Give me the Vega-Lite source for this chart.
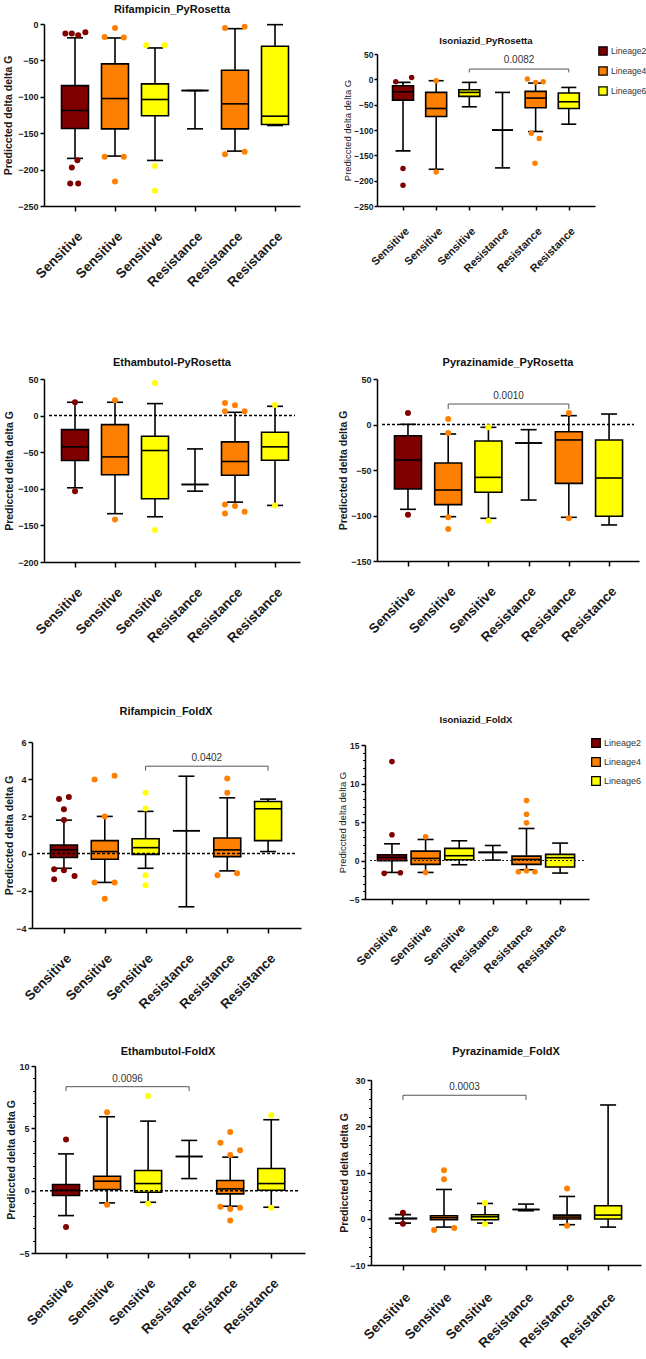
{
  "$schema": "https://vega.github.io/schema/vega-lite/v6.json",
  "background": "white",
  "padding": {"left": 3, "top": 3, "right": 0, "bottom": 0},
  "columns": 2,
  "spacing": {"row": 20, "column": 72},
  "bounds": "flush",
  "resolve": {"scale": {"color": "independent"}},
  "config": {
    "font": "Liberation Sans",
    "view": {"stroke": null},
    "axis": {"domainColor": "#000", "domainWidth": 1.5, "tickColor": "#000", "tickWidth": 1.5, "labelColor": "#1a1a1a", "titleColor": "#1a1a1a", "grid": false, "labelFont": "Liberation Sans", "titleFont": "Liberation Sans", "labelFlush": false, "labelOverlap": false, "labelBound": false},
    "title": {"font": "Liberation Sans", "fontWeight": "bold", "color": "#111", "anchor": "middle", "frame": "group"}
  },
  "datasets": {
    "box": [
      {"panel": "RP", "g": 1, "lineage": "Lineage2", "lo": -184.6, "q1": -143.5, "med": -118.8, "q3": -84.6, "hi": -19},
      {"panel": "RP", "g": 2, "lineage": "Lineage4", "lo": -181.4, "q1": -144, "med": -102.4, "q3": -54.8, "hi": -19.2},
      {"panel": "RP", "g": 3, "lineage": "Lineage6", "lo": -187.4, "q1": -126.1, "med": -103.7, "q3": -82.3, "hi": -32.9},
      {"panel": "RP", "g": 4, "lineage": "Lineage2", "lo": -144, "q1": -91.4, "med": -91.4, "q3": -91.4, "hi": -91.4},
      {"panel": "RP", "g": 5, "lineage": "Lineage4", "lo": -174.6, "q1": -144, "med": -109.7, "q3": -63.5, "hi": -6.4},
      {"panel": "RP", "g": 6, "lineage": "Lineage6", "lo": -139.4, "q1": -138, "med": -126.6, "q3": -30.6, "hi": -0.9},
      {"panel": "IP", "g": 1, "lineage": "Lineage2", "lo": -141.2, "q1": -41, "med": -24.5, "q3": -12.6, "hi": -6},
      {"panel": "IP", "g": 2, "lineage": "Lineage4", "lo": -177.5, "q1": -73.3, "med": -57.5, "q3": -25.8, "hi": -2.7},
      {"panel": "IP", "g": 3, "lineage": "Lineage6", "lo": -54.2, "q1": -33.7, "med": -25.8, "q3": -20.5, "hi": -6},
      {"panel": "IP", "g": 4, "lineage": "Lineage2", "lo": -174.8, "q1": -100.3, "med": -100.3, "q3": -100.3, "hi": -25.8},
      {"panel": "IP", "g": 5, "lineage": "Lineage4", "lo": -103, "q1": -56.2, "med": -37, "q3": -23.8, "hi": -7.4},
      {"panel": "IP", "g": 6, "lineage": "Lineage6", "lo": -88.5, "q1": -57.5, "med": -44.3, "q3": -27.1, "hi": -16},
      {"panel": "EP", "g": 1, "lineage": "Lineage2", "lo": -98.6, "q1": -61.4, "med": -42.7, "q3": -19.1, "hi": 18.2},
      {"panel": "EP", "g": 2, "lineage": "Lineage4", "lo": -134, "q1": -80.9, "med": -56.4, "q3": -12.3, "hi": 18.2},
      {"panel": "EP", "g": 3, "lineage": "Lineage6", "lo": -138.2, "q1": -113.6, "med": -47.7, "q3": -28.2, "hi": 16.4},
      {"panel": "EP", "g": 4, "lineage": "Lineage2", "lo": -103.2, "q1": -94.1, "med": -94.1, "q3": -94.1, "hi": -45.5},
      {"panel": "EP", "g": 5, "lineage": "Lineage4", "lo": -118.2, "q1": -81.4, "med": -62.7, "q3": -35.9, "hi": 4.5},
      {"panel": "EP", "g": 6, "lineage": "Lineage6", "lo": -122.7, "q1": -60.9, "med": -42.7, "q3": -22.7, "hi": 12.7},
      {"panel": "ZP", "g": 1, "lineage": "Lineage2", "lo": -93.2, "q1": -70.9, "med": -39, "q3": -12.3, "hi": 0.2},
      {"panel": "ZP", "g": 2, "lineage": "Lineage4", "lo": -101.3, "q1": -88.1, "med": -72, "q3": -42.3, "hi": -10.4},
      {"panel": "ZP", "g": 3, "lineage": "Lineage6", "lo": -103.1, "q1": -74.5, "med": -58.1, "q3": -18.1, "hi": -3.1},
      {"panel": "ZP", "g": 4, "lineage": "Lineage2", "lo": -83, "q1": -20.3, "med": -20.3, "q3": -20.3, "hi": -5.7},
      {"panel": "ZP", "g": 5, "lineage": "Lineage4", "lo": -102, "q1": -64.7, "med": -17, "q3": -7.9, "hi": 9.7},
      {"panel": "ZP", "g": 6, "lineage": "Lineage6", "lo": -110.4, "q1": -100.9, "med": -58.8, "q3": -17, "hi": 11.5},
      {"panel": "RF", "g": 1, "lineage": "Lineage2", "lo": -0.79, "q1": -0.21, "med": 0.2, "q3": 0.46, "hi": 1.8},
      {"panel": "RF", "g": 2, "lineage": "Lineage4", "lo": -1.55, "q1": -0.3, "med": 0.11, "q3": 0.7, "hi": 2.0},
      {"panel": "RF", "g": 3, "lineage": "Lineage6", "lo": -0.79, "q1": -0.04, "med": 0.32, "q3": 0.8, "hi": 2.27},
      {"panel": "RF", "g": 4, "lineage": "Lineage2", "lo": -2.86, "q1": 1.23, "med": 1.23, "q3": 1.23, "hi": 4.16},
      {"panel": "RF", "g": 5, "lineage": "Lineage4", "lo": -0.93, "q1": -0.16, "med": 0.2, "q3": 0.84, "hi": 3.0},
      {"panel": "RF", "g": 6, "lineage": "Lineage6", "lo": 0.11, "q1": 0.7, "med": 2.41, "q3": 2.8, "hi": 2.93},
      {"panel": "IF", "g": 1, "lineage": "Lineage2", "lo": -1.55, "q1": -0.03, "med": 0.4, "q3": 0.75, "hi": 2.17},
      {"panel": "IF", "g": 2, "lineage": "Lineage4", "lo": -1.55, "q1": -0.5, "med": 0.27, "q3": 1.22, "hi": 2.73},
      {"panel": "IF", "g": 3, "lineage": "Lineage6", "lo": -0.55, "q1": 0.1, "med": 0.62, "q3": 1.57, "hi": 2.56},
      {"panel": "IF", "g": 4, "lineage": "Lineage2", "lo": 0.05, "q1": 1.05, "med": 1.05, "q3": 1.05, "hi": 1.95},
      {"panel": "IF", "g": 5, "lineage": "Lineage4", "lo": -1.2, "q1": -0.5, "med": 0.14, "q3": 0.57, "hi": 4.16},
      {"panel": "IF", "g": 6, "lineage": "Lineage6", "lo": -1.63, "q1": -0.85, "med": 0.36, "q3": 0.79, "hi": 2.26},
      {"panel": "EF", "g": 1, "lineage": "Lineage2", "lo": -2.0, "q1": -0.39, "med": 0.03, "q3": 0.49, "hi": 2.95},
      {"panel": "EF", "g": 2, "lineage": "Lineage4", "lo": -0.98, "q1": 0.09, "med": 0.76, "q3": 1.16, "hi": 5.93},
      {"panel": "EF", "g": 3, "lineage": "Lineage6", "lo": -0.93, "q1": -0.13, "med": 0.57, "q3": 1.62, "hi": 5.58},
      {"panel": "EF", "g": 4, "lineage": "Lineage2", "lo": 0.97, "q1": 2.74, "med": 2.74, "q3": 2.74, "hi": 4.03},
      {"panel": "EF", "g": 5, "lineage": "Lineage4", "lo": -1.25, "q1": -0.26, "med": 0.14, "q3": 0.81, "hi": 2.69},
      {"panel": "EF", "g": 6, "lineage": "Lineage6", "lo": -1.33, "q1": 0.03, "med": 0.57, "q3": 1.78, "hi": 5.69},
      {"panel": "ZF", "g": 1, "lineage": "Lineage2", "lo": -0.95, "q1": 0.0, "med": 0.05, "q3": 0.1, "hi": 0.9},
      {"panel": "ZF", "g": 2, "lineage": "Lineage4", "lo": -1.8, "q1": -0.22, "med": 0.22, "q3": 0.65, "hi": 6.33},
      {"panel": "ZF", "g": 3, "lineage": "Lineage6", "lo": -0.94, "q1": -0.22, "med": 0.43, "q3": 0.86, "hi": 3.31},
      {"panel": "ZF", "g": 4, "lineage": "Lineage2", "lo": 1.73, "q1": 2.0, "med": 2.0, "q3": 2.0, "hi": 3.17},
      {"panel": "ZF", "g": 5, "lineage": "Lineage4", "lo": -1.29, "q1": -0.07, "med": 0.36, "q3": 0.79, "hi": 4.82},
      {"panel": "ZF", "g": 6, "lineage": "Lineage6", "lo": -1.8, "q1": -0.07, "med": 0.79, "q3": 2.81, "hi": 24.6}
    ],
    "out": [
      {"panel": "RP", "lineage": "Lineage2", "pos": 0.76, "v": -13},
      {"panel": "RP", "lineage": "Lineage2", "pos": 0.92, "v": -13},
      {"panel": "RP", "lineage": "Lineage2", "pos": 1.08, "v": -15.5},
      {"panel": "RP", "lineage": "Lineage2", "pos": 1.26, "v": -11.4},
      {"panel": "RP", "lineage": "Lineage2", "pos": 1.06, "v": -187},
      {"panel": "RP", "lineage": "Lineage2", "pos": 0.92, "v": -197},
      {"panel": "RP", "lineage": "Lineage2", "pos": 0.88, "v": -219},
      {"panel": "RP", "lineage": "Lineage2", "pos": 1.08, "v": -219},
      {"panel": "RP", "lineage": "Lineage4", "pos": 2.0, "v": -5.5},
      {"panel": "RP", "lineage": "Lineage4", "pos": 1.74, "v": -17.8},
      {"panel": "RP", "lineage": "Lineage4", "pos": 2.22, "v": -18.7},
      {"panel": "RP", "lineage": "Lineage4", "pos": 1.74, "v": -182.4},
      {"panel": "RP", "lineage": "Lineage4", "pos": 2.22, "v": -182.4},
      {"panel": "RP", "lineage": "Lineage4", "pos": 2.0, "v": -216.2},
      {"panel": "RP", "lineage": "Lineage6", "pos": 2.78, "v": -29.3},
      {"panel": "RP", "lineage": "Lineage6", "pos": 3.24, "v": -29.3},
      {"panel": "RP", "lineage": "Lineage6", "pos": 3.0, "v": -195},
      {"panel": "RP", "lineage": "Lineage6", "pos": 3.0, "v": -229},
      {"panel": "RP", "lineage": "Lineage4", "pos": 4.75, "v": -5.5},
      {"panel": "RP", "lineage": "Lineage4", "pos": 5.24, "v": -3.7},
      {"panel": "RP", "lineage": "Lineage4", "pos": 4.75, "v": -179},
      {"panel": "RP", "lineage": "Lineage4", "pos": 5.24, "v": -175.5},
      {"panel": "IP", "lineage": "Lineage2", "pos": 0.78, "v": -4.7},
      {"panel": "IP", "lineage": "Lineage2", "pos": 1.26, "v": 3.8},
      {"panel": "IP", "lineage": "Lineage2", "pos": 1.0, "v": -176},
      {"panel": "IP", "lineage": "Lineage2", "pos": 1.0, "v": -209},
      {"panel": "IP", "lineage": "Lineage4", "pos": 2.0, "v": -2.7},
      {"panel": "IP", "lineage": "Lineage4", "pos": 2.0, "v": -182.7},
      {"panel": "IP", "lineage": "Lineage4", "pos": 4.75, "v": 0.5},
      {"panel": "IP", "lineage": "Lineage4", "pos": 5.0, "v": -6},
      {"panel": "IP", "lineage": "Lineage4", "pos": 5.23, "v": -4.7},
      {"panel": "IP", "lineage": "Lineage4", "pos": 4.87, "v": -106.3},
      {"panel": "IP", "lineage": "Lineage4", "pos": 5.11, "v": -116.8},
      {"panel": "IP", "lineage": "Lineage4", "pos": 4.98, "v": -165.6},
      {"panel": "EP", "lineage": "Lineage2", "pos": 1, "v": 18.2},
      {"panel": "EP", "lineage": "Lineage2", "pos": 1, "v": -103.2},
      {"panel": "EP", "lineage": "Lineage4", "pos": 2, "v": 20.9},
      {"panel": "EP", "lineage": "Lineage4", "pos": 2, "v": -141.8},
      {"panel": "EP", "lineage": "Lineage6", "pos": 3, "v": 44.5},
      {"panel": "EP", "lineage": "Lineage6", "pos": 3, "v": -156.4},
      {"panel": "EP", "lineage": "Lineage4", "pos": 4.75, "v": 17.3},
      {"panel": "EP", "lineage": "Lineage4", "pos": 5.0, "v": 14.1},
      {"panel": "EP", "lineage": "Lineage4", "pos": 4.75, "v": 5.9},
      {"panel": "EP", "lineage": "Lineage4", "pos": 5.24, "v": 5.9},
      {"panel": "EP", "lineage": "Lineage4", "pos": 4.75, "v": -121.4},
      {"panel": "EP", "lineage": "Lineage4", "pos": 5.0, "v": -123.6},
      {"panel": "EP", "lineage": "Lineage4", "pos": 4.75, "v": -133.6},
      {"panel": "EP", "lineage": "Lineage4", "pos": 5.24, "v": -131.4},
      {"panel": "EP", "lineage": "Lineage6", "pos": 6, "v": 14.5},
      {"panel": "EP", "lineage": "Lineage6", "pos": 6, "v": -122.7},
      {"panel": "ZP", "lineage": "Lineage2", "pos": 1, "v": 12.6},
      {"panel": "ZP", "lineage": "Lineage2", "pos": 1, "v": -99.1},
      {"panel": "ZP", "lineage": "Lineage4", "pos": 2, "v": 6},
      {"panel": "ZP", "lineage": "Lineage4", "pos": 2, "v": -9.3},
      {"panel": "ZP", "lineage": "Lineage4", "pos": 2, "v": -102},
      {"panel": "ZP", "lineage": "Lineage4", "pos": 2, "v": -114.8},
      {"panel": "ZP", "lineage": "Lineage6", "pos": 3, "v": -3.1},
      {"panel": "ZP", "lineage": "Lineage6", "pos": 3, "v": -105.7},
      {"panel": "ZP", "lineage": "Lineage4", "pos": 5, "v": 12.6},
      {"panel": "ZP", "lineage": "Lineage4", "pos": 5, "v": -103.1},
      {"panel": "RF", "lineage": "Lineage2", "pos": 0.88, "v": 2.93},
      {"panel": "RF", "lineage": "Lineage2", "pos": 1.12, "v": 3.04},
      {"panel": "RF", "lineage": "Lineage2", "pos": 1.0, "v": 2.38},
      {"panel": "RF", "lineage": "Lineage2", "pos": 1.0, "v": 1.8},
      {"panel": "RF", "lineage": "Lineage2", "pos": 0.76, "v": -0.84},
      {"panel": "RF", "lineage": "Lineage2", "pos": 1.0, "v": -0.89},
      {"panel": "RF", "lineage": "Lineage2", "pos": 1.26, "v": -1.2},
      {"panel": "RF", "lineage": "Lineage2", "pos": 0.76, "v": -1.38},
      {"panel": "RF", "lineage": "Lineage4", "pos": 1.75, "v": 3.98},
      {"panel": "RF", "lineage": "Lineage4", "pos": 2.24, "v": 4.18},
      {"panel": "RF", "lineage": "Lineage4", "pos": 2.0, "v": 2.0},
      {"panel": "RF", "lineage": "Lineage4", "pos": 1.75, "v": -1.55},
      {"panel": "RF", "lineage": "Lineage4", "pos": 2.24, "v": -1.55},
      {"panel": "RF", "lineage": "Lineage4", "pos": 2.0, "v": -2.43},
      {"panel": "RF", "lineage": "Lineage6", "pos": 3, "v": 3.27},
      {"panel": "RF", "lineage": "Lineage6", "pos": 3, "v": 2.43},
      {"panel": "RF", "lineage": "Lineage6", "pos": 3, "v": -1.16},
      {"panel": "RF", "lineage": "Lineage6", "pos": 3, "v": -1.7},
      {"panel": "RF", "lineage": "Lineage4", "pos": 5, "v": 4.04},
      {"panel": "RF", "lineage": "Lineage4", "pos": 5, "v": 3.27},
      {"panel": "RF", "lineage": "Lineage4", "pos": 4.76, "v": -1.16},
      {"panel": "RF", "lineage": "Lineage4", "pos": 5.24, "v": -1.05},
      {"panel": "IF", "lineage": "Lineage2", "pos": 1, "v": 12.84},
      {"panel": "IF", "lineage": "Lineage2", "pos": 1, "v": 3.34},
      {"panel": "IF", "lineage": "Lineage2", "pos": 0.77, "v": -1.67},
      {"panel": "IF", "lineage": "Lineage2", "pos": 1.25, "v": -1.59},
      {"panel": "IF", "lineage": "Lineage4", "pos": 2, "v": 3.08},
      {"panel": "IF", "lineage": "Lineage4", "pos": 2, "v": -1.55},
      {"panel": "IF", "lineage": "Lineage4", "pos": 5, "v": 7.79},
      {"panel": "IF", "lineage": "Lineage4", "pos": 5, "v": 6.01},
      {"panel": "IF", "lineage": "Lineage4", "pos": 5, "v": 4.89},
      {"panel": "IF", "lineage": "Lineage4", "pos": 4.76, "v": -1.46},
      {"panel": "IF", "lineage": "Lineage4", "pos": 5, "v": -1.33},
      {"panel": "IF", "lineage": "Lineage4", "pos": 5.25, "v": -1.46},
      {"panel": "EF", "lineage": "Lineage2", "pos": 1, "v": 4.11},
      {"panel": "EF", "lineage": "Lineage2", "pos": 1, "v": -2.91},
      {"panel": "EF", "lineage": "Lineage4", "pos": 2, "v": 6.3},
      {"panel": "EF", "lineage": "Lineage4", "pos": 2, "v": -1.12},
      {"panel": "EF", "lineage": "Lineage6", "pos": 3, "v": 7.59},
      {"panel": "EF", "lineage": "Lineage6", "pos": 3, "v": -1.04},
      {"panel": "EF", "lineage": "Lineage4", "pos": 5, "v": 4.7},
      {"panel": "EF", "lineage": "Lineage4", "pos": 4.76, "v": 3.84},
      {"panel": "EF", "lineage": "Lineage4", "pos": 5, "v": 2.87},
      {"panel": "EF", "lineage": "Lineage4", "pos": 5.24, "v": 3.25},
      {"panel": "EF", "lineage": "Lineage4", "pos": 4.76, "v": -1.3},
      {"panel": "EF", "lineage": "Lineage4", "pos": 5, "v": -1.47},
      {"panel": "EF", "lineage": "Lineage4", "pos": 5.24, "v": -1.38},
      {"panel": "EF", "lineage": "Lineage4", "pos": 5, "v": -2.4},
      {"panel": "EF", "lineage": "Lineage6", "pos": 6, "v": 6.04},
      {"panel": "EF", "lineage": "Lineage6", "pos": 6, "v": -1.38},
      {"panel": "ZF", "lineage": "Lineage2", "pos": 1, "v": 1.3},
      {"panel": "ZF", "lineage": "Lineage2", "pos": 1, "v": -1.1},
      {"panel": "ZF", "lineage": "Lineage4", "pos": 2, "v": 10.5},
      {"panel": "ZF", "lineage": "Lineage4", "pos": 2, "v": 8.56},
      {"panel": "ZF", "lineage": "Lineage4", "pos": 1.76, "v": -2.45},
      {"panel": "ZF", "lineage": "Lineage4", "pos": 2.25, "v": -2.0},
      {"panel": "ZF", "lineage": "Lineage6", "pos": 3, "v": 3.38},
      {"panel": "ZF", "lineage": "Lineage6", "pos": 3, "v": -1.15},
      {"panel": "ZF", "lineage": "Lineage4", "pos": 5, "v": 6.55},
      {"panel": "ZF", "lineage": "Lineage4", "pos": 5, "v": -1.5}
    ],
    "brk": [
      {"panel": "IP", "a": 3, "b": 6, "mid": 4.5, "y": 20.3, "y0": 13.7, "label": "0.0082"},
      {"panel": "ZP", "a": 2, "b": 5, "mid": 3.5, "y": 22.5, "y0": 17, "label": "0.0010"},
      {"panel": "RF", "a": 3, "b": 6, "mid": 4.5, "y": 4.7, "y0": 4.46, "label": "0.0402"},
      {"panel": "EF", "a": 1, "b": 4, "mid": 2.5, "y": 8.34, "y0": 7.99, "label": "0.0096"},
      {"panel": "ZF", "a": 1, "b": 4, "mid": 2.5, "y": 26.7, "y0": 25.7, "label": "0.0003"}
    ]
  },
  "concat": [
    {
      "width": 256, "height": 182,
      "title": {"text": "Rifampicin_PyRosetta", "fontSize": 11, "offset": 5.5},
      "resolve": {"axis": {"y": "independent"}},
      "layer": [
        {
          "data": {"name": "box"},
          "transform": [{"filter": "datum.panel === 'RP'"}],
          "encoding": {"x": {"field": "g", "type": "quantitative", "scale": {"domain": [0.35, 6.5], "nice": false, "zero": false},
            "axis": {"values": [1, 2, 3, 4, 5, 6], "labelExpr": "datum.value <= 3 ? 'Sensitive' : 'Resistance'", "labelAngle": -45, "labelAlign": "right", "labelBaseline": "top", "labelFontSize": 13.5, "labelFontWeight": "bold", "labelPadding": 18, "tickSize": 5, "labelOverlap": false, "title": null}}},
          "layer": [
            {"mark": {"type": "rule", "color": "#000", "strokeWidth": 1.6},
             "encoding": {"y": {"field": "lo", "type": "quantitative", "scale": {"domain": [-250, 0], "nice": false, "zero": false},
               "axis": {"orient": "left", "values": [-250, -150, -50], "labelOverlap": false, "labelSeparation": -100, "title": "Prediccted delta delta G", "titleFontSize": 10.5, "titleFontWeight": "bold", "titlePadding": 3.8, "labelFontSize": 9, "labelFontWeight": "bold", "tickSize": 4, "labelPadding": 2}},
               "y2": {"field": "hi"}}},
            {"mark": {"type": "bar", "size": 27, "stroke": "#000", "strokeWidth": 1.6},
             "encoding": {"y": {"field": "q1", "type": "quantitative"}, "y2": {"field": "q3"},
               "color": {"field": "lineage", "type": "nominal", "scale": {"domain": ["Lineage2", "Lineage4", "Lineage6"], "range": ["#800000", "#FF8000", "#FFFF00"]}, "legend": null}}},
            {"mark": {"type": "tick", "orient": "horizontal", "size": 27, "thickness": 1.6, "color": "#000", "opacity": 1}, "encoding": {"y": {"field": "med", "type": "quantitative"}}},
            {"mark": {"type": "tick", "orient": "horizontal", "size": 16, "thickness": 1.6, "color": "#000", "opacity": 1}, "encoding": {"y": {"field": "lo", "type": "quantitative"}}},
            {"mark": {"type": "tick", "orient": "horizontal", "size": 16, "thickness": 1.6, "color": "#000", "opacity": 1}, "encoding": {"y": {"field": "hi", "type": "quantitative"}}}
          ]
        },
        {
          "data": {"name": "out"},
          "transform": [{"filter": "datum.panel === 'RP'"}],
          "mark": {"type": "point", "filled": true, "size": 36, "opacity": 1},
          "encoding": {"x": {"field": "pos", "type": "quantitative"},
            "y": {"field": "v", "type": "quantitative", "axis": {"orient": "left", "values": [-200, -100, 0], "domain": false, "labelOverlap": false, "labelSeparation": -100, "title": null, "labelFontSize": 9, "labelFontWeight": "bold", "tickSize": 4, "labelPadding": 2}},
            "color": {"field": "lineage", "type": "nominal", "legend": null}}
        }
      ]
    },
    {
      "width": 218, "height": 182,
      "title": {"text": "Isoniazid_PyRosetta", "fontSize": 9.6, "offset": 10, "dy": 32},
      "resolve": {"axis": {"y": "independent"}},
      "layer": [
        {
          "data": {"name": "box"},
          "transform": [{"filter": "datum.panel === 'IP'"}],
          "encoding": {"x": {"field": "g", "type": "quantitative", "scale": {"domain": [0.366, 6.64], "nice": false, "zero": false},
            "axis": {"values": [1, 2, 3, 4, 5, 6], "labelExpr": "datum.value <= 3 ? 'Sensitive' : 'Resistance'", "labelAngle": -45, "labelAlign": "right", "labelBaseline": "top", "labelFontSize": 11, "labelFontWeight": "bold", "labelPadding": 15, "tickSize": 4, "labelOverlap": false, "title": null}}},
          "layer": [
            {"mark": {"type": "rule", "color": "#000", "strokeWidth": 1.6},
             "encoding": {"y": {"field": "lo", "type": "quantitative", "scale": {"domain": [-250, 50], "range": [182, 30], "nice": false, "zero": false},
               "axis": {"orient": "left", "values": [-250, -150, -50, 50], "labelOverlap": false, "labelSeparation": -100, "title": "Prediccted delta delta G", "titleFontSize": 9.5, "titleFontWeight": "normal", "titlePadding": 1, "labelFontSize": 8.5, "labelFontWeight": "bold", "tickSize": 3, "labelPadding": 1}},
               "y2": {"field": "hi"}}},
            {"mark": {"type": "bar", "size": 21, "stroke": "#000", "strokeWidth": 1.6},
             "encoding": {"y": {"field": "q1", "type": "quantitative"}, "y2": {"field": "q3"},
               "color": {"field": "lineage", "type": "nominal", "scale": {"domain": ["Lineage2", "Lineage4", "Lineage6"], "range": ["#800000", "#FF8000", "#FFFF00"]},
                 "legend": {"orient": "none", "legendX": 221, "legendY": 22, "title": null, "padding": 0, "symbolType": "square", "symbolSize": 70, "symbolStrokeColor": "#000", "symbolStrokeWidth": 1.2, "labelFontSize": 8.6, "labelColor": "#333", "labelOffset": 3, "rowPadding": 6}}}},
            {"mark": {"type": "tick", "orient": "horizontal", "size": 21, "thickness": 1.6, "color": "#000", "opacity": 1}, "encoding": {"y": {"field": "med", "type": "quantitative"}}},
            {"mark": {"type": "tick", "orient": "horizontal", "size": 15, "thickness": 1.6, "color": "#000", "opacity": 1}, "encoding": {"y": {"field": "lo", "type": "quantitative"}}},
            {"mark": {"type": "tick", "orient": "horizontal", "size": 15, "thickness": 1.6, "color": "#000", "opacity": 1}, "encoding": {"y": {"field": "hi", "type": "quantitative"}}}
          ]
        },
        {
          "data": {"name": "out"},
          "transform": [{"filter": "datum.panel === 'IP'"}],
          "mark": {"type": "point", "filled": true, "size": 30, "opacity": 1},
          "encoding": {"x": {"field": "pos", "type": "quantitative"},
            "y": {"field": "v", "type": "quantitative", "axis": {"orient": "left", "values": [-200, -100, 0], "domain": false, "labelOverlap": false, "labelSeparation": -100, "title": null, "labelFontSize": 8.5, "labelFontWeight": "bold", "tickSize": 3, "labelPadding": 1}},
            "color": {"field": "lineage", "type": "nominal", "legend": null}}
        },
        {
          "data": {"name": "brk"},
          "transform": [{"filter": "datum.panel === 'IP'"}],
          "layer": [
            {"mark": {"type": "rule", "color": "#555", "strokeWidth": 1}, "encoding": {"x": {"field": "a", "type": "quantitative"}, "x2": {"field": "b"}, "y": {"field": "y", "type": "quantitative", "axis": null}}},
            {"mark": {"type": "rule", "color": "#555", "strokeWidth": 1}, "encoding": {"x": {"field": "a", "type": "quantitative"}, "y": {"field": "y", "type": "quantitative", "axis": null}, "y2": {"field": "y0"}}},
            {"mark": {"type": "rule", "color": "#555", "strokeWidth": 1}, "encoding": {"x": {"field": "b", "type": "quantitative"}, "y": {"field": "y", "type": "quantitative", "axis": null}, "y2": {"field": "y0"}}},
            {"mark": {"type": "text", "fontSize": 10, "color": "#333", "baseline": "middle", "dy": -9}, "encoding": {"x": {"field": "mid", "type": "quantitative"}, "y": {"field": "y", "type": "quantitative", "axis": null}, "text": {"field": "label"}}}
          ]
        }
      ]
    },
    {
      "width": 256, "height": 336,
      "title": {"text": "Ethambutol-PyRosetta", "fontSize": 11, "offset": 10, "dy": 152},
      "layer": [
        {
          "data": {"name": "box"},
          "transform": [{"filter": "datum.panel === 'EP'"}],
          "encoding": {"x": {"field": "g", "type": "quantitative", "scale": {"domain": [0.35, 6.5], "nice": false, "zero": false},
            "axis": {"values": [1, 2, 3, 4, 5, 6], "labelExpr": "datum.value <= 3 ? 'Sensitive' : 'Resistance'", "labelAngle": -45, "labelAlign": "right", "labelBaseline": "top", "labelFontSize": 13.5, "labelFontWeight": "bold", "labelPadding": 18, "tickSize": 5, "labelOverlap": false, "title": null}}},
          "layer": [
            {"mark": {"type": "rule", "color": "#000", "strokeWidth": 1.6},
             "encoding": {"y": {"field": "lo", "type": "quantitative", "scale": {"domain": [-200, 50], "range": [336, 153], "nice": false, "zero": false},
               "axis": {"values": [-200, -150, -100, -50, 0, 50], "labelOverlap": false, "title": "Prediccted delta delta G", "titleFontSize": 10.5, "titleFontWeight": "bold", "titlePadding": 2.8, "labelFontSize": 9, "labelFontWeight": "bold", "tickSize": 4, "labelPadding": 2}},
               "y2": {"field": "hi"}}},
            {"mark": {"type": "bar", "size": 27, "stroke": "#000", "strokeWidth": 1.6},
             "encoding": {"y": {"field": "q1", "type": "quantitative"}, "y2": {"field": "q3"},
               "color": {"field": "lineage", "type": "nominal", "scale": {"domain": ["Lineage2", "Lineage4", "Lineage6"], "range": ["#800000", "#FF8000", "#FFFF00"]}, "legend": null}}},
            {"mark": {"type": "tick", "orient": "horizontal", "size": 27, "thickness": 1.6, "color": "#000", "opacity": 1}, "encoding": {"y": {"field": "med", "type": "quantitative"}}},
            {"mark": {"type": "tick", "orient": "horizontal", "size": 16, "thickness": 1.6, "color": "#000", "opacity": 1}, "encoding": {"y": {"field": "lo", "type": "quantitative"}}},
            {"mark": {"type": "tick", "orient": "horizontal", "size": 16, "thickness": 1.6, "color": "#000", "opacity": 1}, "encoding": {"y": {"field": "hi", "type": "quantitative"}}}
          ]
        },
        {
          "data": {"values": [{}]},
          "mark": {"type": "rule", "color": "#000", "strokeWidth": 1.5, "strokeDash": [3, 2]},
          "encoding": {"x": {"datum": 0.35, "type": "quantitative"}, "x2": {"datum": 6.5}, "y": {"datum": 0, "type": "quantitative"}}
        },
        {
          "data": {"name": "out"},
          "transform": [{"filter": "datum.panel === 'EP'"}],
          "mark": {"type": "point", "filled": true, "size": 36, "opacity": 1},
          "encoding": {"x": {"field": "pos", "type": "quantitative"}, "y": {"field": "v", "type": "quantitative"},
            "color": {"field": "lineage", "type": "nominal", "legend": null}}
        }
      ]
    },
    {
      "width": 262, "height": 335,
      "title": {"text": "Pyrazinamide_PyRosetta", "fontSize": 11, "offset": 10, "dy": 152},
      "layer": [
        {
          "data": {"name": "box"},
          "transform": [{"filter": "datum.panel === 'ZP'"}],
          "encoding": {"x": {"field": "g", "type": "quantitative", "scale": {"domain": [0.354, 6.62], "nice": false, "zero": false},
            "axis": {"values": [1, 2, 3, 4, 5, 6], "labelExpr": "datum.value <= 3 ? 'Sensitive' : 'Resistance'", "labelAngle": -45, "labelAlign": "right", "labelBaseline": "top", "labelFontSize": 13.5, "labelFontWeight": "bold", "labelPadding": 18, "tickSize": 5, "labelOverlap": false, "title": null}}},
          "layer": [
            {"mark": {"type": "rule", "color": "#000", "strokeWidth": 1.6},
             "encoding": {"y": {"field": "lo", "type": "quantitative", "scale": {"domain": [-150, 50], "range": [335, 153], "nice": false, "zero": false},
               "axis": {"values": [-150, -100, -50, 0, 50], "labelOverlap": false, "title": "Prediccted delta delta G", "titleFontSize": 10.5, "titleFontWeight": "bold", "titlePadding": 1.8, "labelFontSize": 9, "labelFontWeight": "bold", "tickSize": 4, "labelPadding": 2}},
               "y2": {"field": "hi"}}},
            {"mark": {"type": "bar", "size": 27, "stroke": "#000", "strokeWidth": 1.6},
             "encoding": {"y": {"field": "q1", "type": "quantitative"}, "y2": {"field": "q3"},
               "color": {"field": "lineage", "type": "nominal", "scale": {"domain": ["Lineage2", "Lineage4", "Lineage6"], "range": ["#800000", "#FF8000", "#FFFF00"]}, "legend": null}}},
            {"mark": {"type": "tick", "orient": "horizontal", "size": 27, "thickness": 1.6, "color": "#000", "opacity": 1}, "encoding": {"y": {"field": "med", "type": "quantitative"}}},
            {"mark": {"type": "tick", "orient": "horizontal", "size": 16, "thickness": 1.6, "color": "#000", "opacity": 1}, "encoding": {"y": {"field": "lo", "type": "quantitative"}}},
            {"mark": {"type": "tick", "orient": "horizontal", "size": 16, "thickness": 1.6, "color": "#000", "opacity": 1}, "encoding": {"y": {"field": "hi", "type": "quantitative"}}}
          ]
        },
        {
          "data": {"values": [{}]},
          "mark": {"type": "rule", "color": "#000", "strokeWidth": 1.5, "strokeDash": [3, 2]},
          "encoding": {"x": {"datum": 0.354, "type": "quantitative"}, "x2": {"datum": 6.62}, "y": {"datum": 0, "type": "quantitative"}}
        },
        {
          "data": {"name": "out"},
          "transform": [{"filter": "datum.panel === 'ZP'"}],
          "mark": {"type": "point", "filled": true, "size": 36, "opacity": 1},
          "encoding": {"x": {"field": "pos", "type": "quantitative"}, "y": {"field": "v", "type": "quantitative"},
            "color": {"field": "lineage", "type": "nominal", "legend": null}}
        },
        {
          "data": {"name": "brk"},
          "transform": [{"filter": "datum.panel === 'ZP'"}],
          "layer": [
            {"mark": {"type": "rule", "color": "#555", "strokeWidth": 1}, "encoding": {"x": {"field": "a", "type": "quantitative"}, "x2": {"field": "b"}, "y": {"field": "y", "type": "quantitative"}}},
            {"mark": {"type": "rule", "color": "#555", "strokeWidth": 1}, "encoding": {"x": {"field": "a", "type": "quantitative"}, "y": {"field": "y", "type": "quantitative"}, "y2": {"field": "y0"}}},
            {"mark": {"type": "rule", "color": "#555", "strokeWidth": 1}, "encoding": {"x": {"field": "b", "type": "quantitative"}, "y": {"field": "y", "type": "quantitative"}, "y2": {"field": "y0"}}},
            {"mark": {"type": "text", "fontSize": 10, "color": "#333", "baseline": "middle", "dy": -8.5}, "encoding": {"x": {"field": "mid", "type": "quantitative"}, "y": {"field": "y", "type": "quantitative"}, "text": {"field": "label"}}}
          ]
        }
      ]
    },
    {
      "width": 257, "height": 346,
      "title": {"text": "Rifampicin_FoldX", "fontSize": 11, "offset": 10, "dy": 144.5, "dx": -6.5},
      "layer": [
        {
          "data": {"name": "box"},
          "transform": [{"filter": "datum.panel === 'RF'"}],
          "encoding": {"x": {"field": "g", "type": "quantitative", "scale": {"domain": [0.34, 6.684], "range": [-12, 257], "nice": false, "zero": false},
            "axis": {"values": [1, 2, 3, 4, 5, 6], "labelExpr": "datum.value <= 3 ? 'Sensitive' : 'Resistance'", "labelAngle": -45, "labelAlign": "right", "labelBaseline": "top", "labelFontSize": 13.5, "labelFontWeight": "bold", "labelPadding": 18, "tickSize": 5, "labelOverlap": false, "title": null}}},
          "layer": [
            {"mark": {"type": "rule", "color": "#000", "strokeWidth": 1.6},
             "encoding": {"y": {"field": "lo", "type": "quantitative", "scale": {"domain": [-4, 6], "range": [346, 160], "nice": false, "zero": false},
               "axis": {"values": [-4, -2, 0, 2, 4, 6], "offset": 12, "labelOverlap": false, "title": "Prediccted delta delta G", "titleFontSize": 10.5, "titleFontWeight": "bold", "titlePadding": 1, "labelFontSize": 9, "labelFontWeight": "bold", "tickSize": 4, "labelPadding": 2}},
               "y2": {"field": "hi"}}},
            {"mark": {"type": "bar", "size": 27, "stroke": "#000", "strokeWidth": 1.6},
             "encoding": {"y": {"field": "q1", "type": "quantitative"}, "y2": {"field": "q3"},
               "color": {"field": "lineage", "type": "nominal", "scale": {"domain": ["Lineage2", "Lineage4", "Lineage6"], "range": ["#800000", "#FF8000", "#FFFF00"]}, "legend": null}}},
            {"mark": {"type": "tick", "orient": "horizontal", "size": 27, "thickness": 1.6, "color": "#000", "opacity": 1}, "encoding": {"y": {"field": "med", "type": "quantitative"}}},
            {"mark": {"type": "tick", "orient": "horizontal", "size": 16, "thickness": 1.6, "color": "#000", "opacity": 1}, "encoding": {"y": {"field": "lo", "type": "quantitative"}}},
            {"mark": {"type": "tick", "orient": "horizontal", "size": 16, "thickness": 1.6, "color": "#000", "opacity": 1}, "encoding": {"y": {"field": "hi", "type": "quantitative"}}}
          ]
        },
        {
          "data": {"values": [{}]},
          "mark": {"type": "rule", "color": "#000", "strokeWidth": 1.5, "strokeDash": [3, 2]},
          "encoding": {"x": {"datum": 0.34, "type": "quantitative"}, "x2": {"datum": 6.684}, "y": {"datum": 0, "type": "quantitative"}}
        },
        {
          "data": {"name": "out"},
          "transform": [{"filter": "datum.panel === 'RF'"}],
          "mark": {"type": "point", "filled": true, "size": 36, "opacity": 1},
          "encoding": {"x": {"field": "pos", "type": "quantitative"}, "y": {"field": "v", "type": "quantitative"},
            "color": {"field": "lineage", "type": "nominal", "legend": null}}
        },
        {
          "data": {"name": "brk"},
          "transform": [{"filter": "datum.panel === 'RF'"}],
          "layer": [
            {"mark": {"type": "rule", "color": "#555", "strokeWidth": 1}, "encoding": {"x": {"field": "a", "type": "quantitative"}, "x2": {"field": "b"}, "y": {"field": "y", "type": "quantitative"}}},
            {"mark": {"type": "rule", "color": "#555", "strokeWidth": 1}, "encoding": {"x": {"field": "a", "type": "quantitative"}, "y": {"field": "y", "type": "quantitative"}, "y2": {"field": "y0"}}},
            {"mark": {"type": "rule", "color": "#555", "strokeWidth": 1}, "encoding": {"x": {"field": "b", "type": "quantitative"}, "y": {"field": "y", "type": "quantitative"}, "y2": {"field": "y0"}}},
            {"mark": {"type": "text", "fontSize": 10, "color": "#333", "baseline": "middle", "dy": -8.5}, "encoding": {"x": {"field": "mid", "type": "quantitative"}, "y": {"field": "y", "type": "quantitative"}, "text": {"field": "label"}}}
          ]
        }
      ]
    },
    {
      "width": 212, "height": 317,
      "title": {"text": "Isoniazid_FoldX", "fontSize": 9.6, "offset": 10, "dy": 152.5, "dx": -7},
      "resolve": {"axis": {"y": "independent"}},
      "layer": [
        {
          "data": {"name": "box"},
          "transform": [{"filter": "datum.panel === 'IF'"}],
          "encoding": {"x": {"field": "g", "type": "quantitative", "scale": {"domain": [0.347, 6.71], "range": [-12, 212], "nice": false, "zero": false},
            "axis": {"values": [1, 2, 3, 4, 5, 6], "labelExpr": "datum.value <= 3 ? 'Sensitive' : 'Resistance'", "labelAngle": -45, "labelAlign": "right", "labelBaseline": "top", "labelFontSize": 12, "labelFontWeight": "bold", "labelPadding": 18, "tickSize": 5, "labelOverlap": false, "title": null}}},
          "layer": [
            {"mark": {"type": "rule", "color": "#000", "strokeWidth": 1.6},
             "encoding": {"y": {"field": "lo", "type": "quantitative", "scale": {"domain": [-5, 15], "range": [317, 163], "nice": false, "zero": false},
               "axis": {"orient": "left", "values": [-5, 0, 5, 10, 15], "offset": 12, "labelOverlap": false, "title": "Prediccted delta delta G", "titleFontSize": 9.5, "titleFontWeight": "normal", "titlePadding": 1.5, "labelFontSize": 8.5, "labelFontWeight": "bold", "tickSize": 4, "labelPadding": 2}},
               "y2": {"field": "hi"}}},
            {"mark": {"type": "bar", "size": 29, "stroke": "#000", "strokeWidth": 1.6},
             "encoding": {"y": {"field": "q1", "type": "quantitative"}, "y2": {"field": "q3"},
               "color": {"field": "lineage", "type": "nominal", "scale": {"domain": ["Lineage2", "Lineage4", "Lineage6"], "range": ["#800000", "#FF8000", "#FFFF00"]},
                 "legend": {"orient": "none", "legendX": 214, "legendY": 156, "title": null, "padding": 0, "symbolType": "square", "symbolSize": 75, "symbolStrokeColor": "#000", "symbolStrokeWidth": 1.2, "labelFontSize": 9, "labelColor": "#333", "labelOffset": 3, "rowPadding": 5}}}},
            {"mark": {"type": "tick", "orient": "horizontal", "size": 29, "thickness": 1.6, "color": "#000", "opacity": 1}, "encoding": {"y": {"field": "med", "type": "quantitative"}}},
            {"mark": {"type": "tick", "orient": "horizontal", "size": 16, "thickness": 1.6, "color": "#000", "opacity": 1}, "encoding": {"y": {"field": "lo", "type": "quantitative"}}},
            {"mark": {"type": "tick", "orient": "horizontal", "size": 16, "thickness": 1.6, "color": "#000", "opacity": 1}, "encoding": {"y": {"field": "hi", "type": "quantitative"}}}
          ]
        },
        {
          "data": {"values": [{}]},
          "mark": {"type": "rule", "color": "#222", "strokeWidth": 1, "strokeDash": [2, 2]},
          "encoding": {"x": {"datum": 0.347, "type": "quantitative"}, "x2": {"datum": 6.71}, "y": {"datum": 0, "type": "quantitative", "axis": null}}
        },
        {
          "data": {"name": "out"},
          "transform": [{"filter": "datum.panel === 'IF'"}],
          "mark": {"type": "point", "filled": true, "size": 32, "opacity": 1},
          "encoding": {"x": {"field": "pos", "type": "quantitative"},
            "y": {"field": "v", "type": "quantitative", "axis": {"orient": "left", "offset": 12, "values": [-5, -4, -3, -2, -1, 0, 1, 2, 3, 4, 5, 6, 7, 8, 9, 10, 11, 12, 13, 14, 15], "labels": false, "domain": false, "title": null, "tickSize": 2.5, "tickWidth": 1}},
            "color": {"field": "lineage", "type": "nominal", "legend": null}}
        }
      ]
    },
    {
      "width": 261, "height": 305,
      "title": {"text": "Ethambutol-FoldX", "fontSize": 11, "offset": 10, "dy": 118.5, "dx": -6.5},
      "resolve": {"axis": {"y": "independent"}},
      "layer": [
        {
          "data": {"name": "box"},
          "transform": [{"filter": "datum.panel === 'EF'"}],
          "encoding": {"x": {"field": "g", "type": "quantitative", "scale": {"domain": [0.366, 6.7], "range": [-9, 261], "nice": false, "zero": false},
            "axis": {"values": [1, 2, 3, 4, 5, 6], "labelExpr": "datum.value <= 3 ? 'Sensitive' : 'Resistance'", "labelAngle": -45, "labelAlign": "right", "labelBaseline": "top", "labelFontSize": 13.5, "labelFontWeight": "bold", "labelPadding": 18, "tickSize": 5, "labelOverlap": false, "title": null}}},
          "layer": [
            {"mark": {"type": "rule", "color": "#000", "strokeWidth": 1.6},
             "encoding": {"y": {"field": "lo", "type": "quantitative", "scale": {"domain": [-5, 10], "range": [305, 118], "nice": false, "zero": false},
               "axis": {"orient": "left", "values": [-5, 0, 5, 10], "offset": 9, "labelOverlap": false, "title": "Prediccted delta delta G", "titleFontSize": 10.5, "titleFontWeight": "bold", "titlePadding": 1.8, "labelFontSize": 9, "labelFontWeight": "bold", "tickSize": 4, "labelPadding": 2}},
               "y2": {"field": "hi"}}},
            {"mark": {"type": "bar", "size": 27, "stroke": "#000", "strokeWidth": 1.6},
             "encoding": {"y": {"field": "q1", "type": "quantitative"}, "y2": {"field": "q3"},
               "color": {"field": "lineage", "type": "nominal", "scale": {"domain": ["Lineage2", "Lineage4", "Lineage6"], "range": ["#800000", "#FF8000", "#FFFF00"]}, "legend": null}}},
            {"mark": {"type": "tick", "orient": "horizontal", "size": 27, "thickness": 1.6, "color": "#000", "opacity": 1}, "encoding": {"y": {"field": "med", "type": "quantitative"}}},
            {"mark": {"type": "tick", "orient": "horizontal", "size": 16, "thickness": 1.6, "color": "#000", "opacity": 1}, "encoding": {"y": {"field": "lo", "type": "quantitative"}}},
            {"mark": {"type": "tick", "orient": "horizontal", "size": 16, "thickness": 1.6, "color": "#000", "opacity": 1}, "encoding": {"y": {"field": "hi", "type": "quantitative"}}}
          ]
        },
        {
          "data": {"values": [{}]},
          "mark": {"type": "rule", "color": "#000", "strokeWidth": 1.5, "strokeDash": [3, 2]},
          "encoding": {"x": {"datum": 0.366, "type": "quantitative"}, "x2": {"datum": 6.7}, "y": {"datum": 0, "type": "quantitative", "axis": null}}
        },
        {
          "data": {"name": "out"},
          "transform": [{"filter": "datum.panel === 'EF'"}],
          "mark": {"type": "point", "filled": true, "size": 36, "opacity": 1},
          "encoding": {"x": {"field": "pos", "type": "quantitative"},
            "y": {"field": "v", "type": "quantitative", "axis": {"orient": "left", "offset": 9, "values": [-5, -4, -3, -2, -1, 0, 1, 2, 3, 4, 5, 6, 7, 8, 9, 10], "labels": false, "domain": false, "title": null, "tickSize": 2.5, "tickWidth": 1}},
            "color": {"field": "lineage", "type": "nominal", "legend": null}}
        },
        {
          "data": {"name": "brk"},
          "transform": [{"filter": "datum.panel === 'EF'"}],
          "layer": [
            {"mark": {"type": "rule", "color": "#555", "strokeWidth": 1}, "encoding": {"x": {"field": "a", "type": "quantitative"}, "x2": {"field": "b"}, "y": {"field": "y", "type": "quantitative", "axis": null}}},
            {"mark": {"type": "rule", "color": "#555", "strokeWidth": 1}, "encoding": {"x": {"field": "a", "type": "quantitative"}, "y": {"field": "y", "type": "quantitative", "axis": null}, "y2": {"field": "y0"}}},
            {"mark": {"type": "rule", "color": "#555", "strokeWidth": 1}, "encoding": {"x": {"field": "b", "type": "quantitative"}, "y": {"field": "y", "type": "quantitative", "axis": null}, "y2": {"field": "y0"}}},
            {"mark": {"type": "text", "fontSize": 10, "color": "#333", "baseline": "middle", "dy": -8}, "encoding": {"x": {"field": "mid", "type": "quantitative"}, "y": {"field": "y", "type": "quantitative", "axis": null}, "text": {"field": "label"}}}
          ]
        }
      ]
    },
    {
      "width": 264, "height": 317,
      "title": {"text": "Pyrazinamide_FoldX", "fontSize": 11, "offset": 10, "dy": 118.5, "dx": -3},
      "resolve": {"axis": {"y": "independent"}},
      "layer": [
        {
          "data": {"name": "box"},
          "transform": [{"filter": "datum.panel === 'ZF'"}],
          "encoding": {"x": {"field": "g", "type": "quantitative", "scale": {"domain": [0.343, 6.68], "range": [-6, 264], "nice": false, "zero": false},
            "axis": {"values": [1, 2, 3, 4, 5, 6], "labelExpr": "datum.value <= 3 ? 'Sensitive' : 'Resistance'", "labelAngle": -45, "labelAlign": "right", "labelBaseline": "top", "labelFontSize": 13.5, "labelFontWeight": "bold", "labelPadding": 20, "tickSize": 5, "labelOverlap": false, "title": null}}},
          "layer": [
            {"mark": {"type": "rule", "color": "#000", "strokeWidth": 1.6},
             "encoding": {"y": {"field": "lo", "type": "quantitative", "scale": {"domain": [-10, 30], "range": [317, 132], "nice": false, "zero": false},
               "axis": {"orient": "left", "values": [-10, 0, 10, 20, 30], "offset": 6, "labelOverlap": false, "title": "Prediccted delta delta G", "titleFontSize": 10.5, "titleFontWeight": "bold", "titlePadding": 0, "labelFontSize": 9, "labelFontWeight": "bold", "tickSize": 4, "labelPadding": 2}},
               "y2": {"field": "hi"}}},
            {"mark": {"type": "bar", "size": 27, "stroke": "#000", "strokeWidth": 1.6},
             "encoding": {"y": {"field": "q1", "type": "quantitative"}, "y2": {"field": "q3"},
               "color": {"field": "lineage", "type": "nominal", "scale": {"domain": ["Lineage2", "Lineage4", "Lineage6"], "range": ["#800000", "#FF8000", "#FFFF00"]}, "legend": null}}},
            {"mark": {"type": "tick", "orient": "horizontal", "size": 27, "thickness": 1.6, "color": "#000", "opacity": 1}, "encoding": {"y": {"field": "med", "type": "quantitative"}}},
            {"mark": {"type": "tick", "orient": "horizontal", "size": 16, "thickness": 1.6, "color": "#000", "opacity": 1}, "encoding": {"y": {"field": "lo", "type": "quantitative"}}},
            {"mark": {"type": "tick", "orient": "horizontal", "size": 16, "thickness": 1.6, "color": "#000", "opacity": 1}, "encoding": {"y": {"field": "hi", "type": "quantitative"}}}
          ]
        },
        {
          "data": {"name": "out"},
          "transform": [{"filter": "datum.panel === 'ZF'"}],
          "mark": {"type": "point", "filled": true, "size": 36, "opacity": 1},
          "encoding": {"x": {"field": "pos", "type": "quantitative"},
            "y": {"field": "v", "type": "quantitative", "axis": {"orient": "left", "offset": 6, "values": [-10, -8, -6, -4, -2, 0, 2, 4, 6, 8, 10, 12, 14, 16, 18, 20, 22, 24, 26, 28, 30], "labels": false, "domain": false, "title": null, "tickSize": 2.5, "tickWidth": 1}},
            "color": {"field": "lineage", "type": "nominal", "legend": null}}
        },
        {
          "data": {"name": "brk"},
          "transform": [{"filter": "datum.panel === 'ZF'"}],
          "layer": [
            {"mark": {"type": "rule", "color": "#555", "strokeWidth": 1}, "encoding": {"x": {"field": "a", "type": "quantitative"}, "x2": {"field": "b"}, "y": {"field": "y", "type": "quantitative", "axis": null}}},
            {"mark": {"type": "rule", "color": "#555", "strokeWidth": 1}, "encoding": {"x": {"field": "a", "type": "quantitative"}, "y": {"field": "y", "type": "quantitative", "axis": null}, "y2": {"field": "y0"}}},
            {"mark": {"type": "rule", "color": "#555", "strokeWidth": 1}, "encoding": {"x": {"field": "b", "type": "quantitative"}, "y": {"field": "y", "type": "quantitative", "axis": null}, "y2": {"field": "y0"}}},
            {"mark": {"type": "text", "fontSize": 10, "color": "#333", "baseline": "middle", "dy": -8}, "encoding": {"x": {"field": "mid", "type": "quantitative"}, "y": {"field": "y", "type": "quantitative", "axis": null}, "text": {"field": "label"}}}
          ]
        }
      ]
    }
  ]
}
